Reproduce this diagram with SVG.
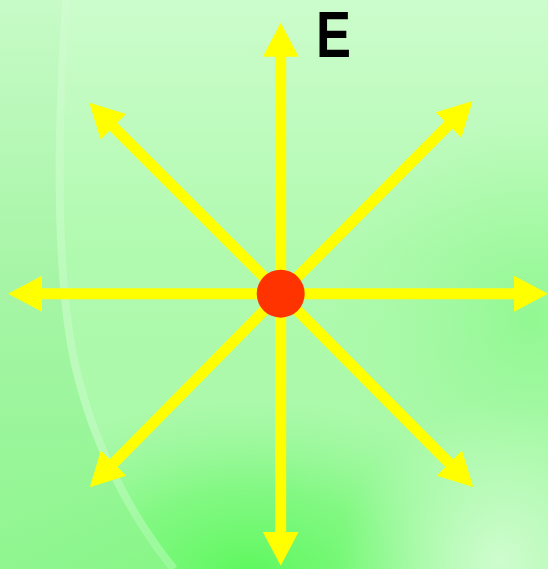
<svg xmlns="http://www.w3.org/2000/svg" width="548" height="569" viewBox="0 0 548 569">
  <defs>
    <linearGradient id="bgBase" x1="0" y1="0" x2="0" y2="1">
      <stop offset="0" stop-color="#ccfccc"/>
      <stop offset="0.45" stop-color="#b0faaf"/>
      <stop offset="1" stop-color="#a6f8a6"/>
    </linearGradient>
    <radialGradient id="glowBottom" cx="250" cy="575" r="220" gradientUnits="userSpaceOnUse" gradientTransform="translate(250 575) scale(1.3 0.8) translate(-250 -575)">
      <stop offset="0" stop-color="#5cf85c" stop-opacity="1"/>
      <stop offset="0.5" stop-color="#74f874" stop-opacity="0.7"/>
      <stop offset="1" stop-color="#90f890" stop-opacity="0"/>
    </radialGradient>
    <radialGradient id="glowRight" cx="530" cy="320" r="200" gradientUnits="userSpaceOnUse">
      <stop offset="0" stop-color="#8ef88e" stop-opacity="0.9"/>
      <stop offset="1" stop-color="#a0f8a0" stop-opacity="0"/>
    </radialGradient>
    <radialGradient id="lightBR" cx="500" cy="560" r="160" gradientUnits="userSpaceOnUse">
      <stop offset="0" stop-color="#cefcce" stop-opacity="1"/>
      <stop offset="1" stop-color="#c4fcc4" stop-opacity="0"/>
    </radialGradient>
    <linearGradient id="leftBand" x1="0" y1="0" x2="0" y2="1">
      <stop offset="0" stop-color="#c6fac6"/>
      <stop offset="0.5" stop-color="#a4f4a4"/>
      <stop offset="1" stop-color="#8cf68c"/>
    </linearGradient>
    <marker id="head" viewBox="0 0 34 36" refX="4" refY="18" markerWidth="34" markerHeight="36" markerUnits="userSpaceOnUse" orient="auto">
      <path d="M0,0 L34,18 L0,36 Z" fill="#ffff00"/>
    </marker>
  </defs>
  <style>
    .arrow { stroke: #ffff00; stroke-width: 11; fill: none; marker-end: url(#head); }
    .label { font-family: "Liberation Sans", Arial, sans-serif; font-weight: bold; font-size: 64px; fill: #000000; }
  </style>

  <g id="background">
    <rect x="0" y="0" width="548" height="569" fill="url(#bgBase)"/>
    <rect x="0" y="0" width="548" height="569" fill="url(#glowRight)"/>
    <rect x="0" y="0" width="548" height="569" fill="url(#glowBottom)"/>
    <rect x="0" y="0" width="548" height="569" fill="url(#lightBR)"/>
    <path d="M0,0 L62,0 C55,120 50,260 70,360 C90,450 130,520 170,569 L0,569 Z" fill="url(#leftBand)" opacity="0.85"/>
    <path d="M66,0 C58,120 54,260 74,360 C94,450 134,520 174,569" fill="none" stroke="#d2fcd2" stroke-width="8" opacity="0.4"/>
  </g>

  <g id="connectors">
    <line class="arrow" x1="280.7" y1="293.7" x2="280.7" y2="52.7"/>
    <line class="arrow" x1="280.7" y1="293.7" x2="280.7" y2="535.7"/>
    <line class="arrow" x1="280.7" y1="293.7" x2="518" y2="293.7"/>
    <line class="arrow" x1="280.7" y1="293.7" x2="38" y2="293.7"/>
    <line class="arrow" x1="280.7" y1="293.7" x2="110.5" y2="123.9"/>
    <line class="arrow" x1="280.7" y1="293.7" x2="451.4" y2="122.2"/>
    <line class="arrow" x1="280.7" y1="293.7" x2="452" y2="465.8"/>
    <line class="arrow" x1="280.7" y1="293.7" x2="110.9" y2="465.8"/>
  </g>

  <g id="charge">
    <circle cx="280.7" cy="293.7" r="24" fill="#ff3300"/>
  </g>

  <g id="label-E">
    <text class="label" transform="translate(316 57) scale(0.82 1)" x="0" y="0">E</text>
  </g>
</svg>
